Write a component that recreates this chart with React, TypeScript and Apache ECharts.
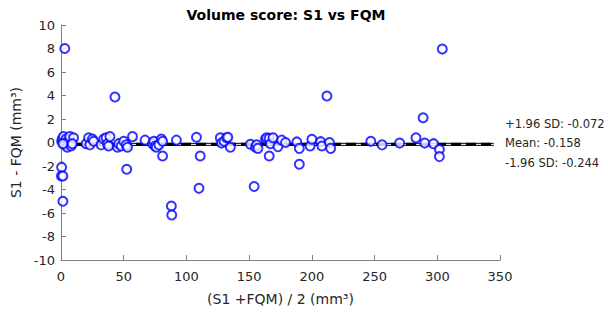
import React, { useEffect, useRef } from "react";
import * as echarts from "echarts";

const title = "Volume score: S1 vs FQM";
const xName = "(S1 +FQM) / 2 (mm³)";
const yName = "S1 - FQM (mm³)";

// mean of the two measurements (x)
const meanValues = [
  0.5, 1, 2, 3, 4, 5, 6, 7, 8, 1.5, 3, 0.5, 0.3, 1.5, 1.5, 10, 9,
  20, 22, 23, 25, 26,
  32, 34, 36, 37, 38, 39,
  43, 45, 46, 48, 50, 52, 52.4, 53,
  57, 67,
  73, 74, 75, 76, 78, 80, 81, 81,
  88, 88.3, 92,
  108, 110, 111,
  127, 128, 130, 132, 133, 135,
  151, 154, 155, 156, 157,
  163, 164, 166, 166, 167, 169,
  173, 176, 179,
  188, 190, 190,
  198.6, 200, 207, 208, 212, 214, 215,
  247, 256, 270, 283, 288.7, 290, 297, 301.7, 301.7, 304,
];
// difference S1 - FQM (y)
const diffValues = [
  0.1, 0.3, 0.5, -0.2, 0.3, -0.4, 0.2, 0.5, -0.3, -0.1, 8.0, -2.1, -2.85, -2.85, -5.0, 0.4, -0.1,
  -0.1, 0.4, -0.2, 0.3, 0.1,
  -0.2, 0.3, 0.4, -0.1, -0.3, 0.5,
  3.87, -0.4, -0.1, -0.3, 0.1, -0.2, -2.28, -0.4,
  0.5, 0.2,
  -0.1, 0.1, -0.3, -0.4, -0.2, 0.3, 0.1, -1.15,
  -5.4, -6.17, 0.2,
  0.45, -3.9, -1.15,
  0.4, -0.05, 0.1, 0.4, 0.45, -0.4,
  -0.15, -3.75, -0.4, -0.2, -0.5,
  0.3, 0.4, 0.35, -1.15, -0.1, 0.4,
  -0.35, 0.2, 0.0,
  0.05, -0.5, -1.85,
  -0.3, 0.27, 0.07, -0.3, 3.96, 0.0, -0.5,
  0.1, -0.2, -0.05, 0.4, 2.1, -0.05, -0.1, -0.6, -1.2, 7.95,
];

const meanDiff = -0.158;
const upperLoA = -0.072;
const lowerLoA = -0.244;
const lineXRange = [0, 345];

export default function App() {
  const ref = useRef<HTMLDivElement>(null);
  useEffect(() => {
    if (!ref.current) return;
    const chart = echarts.init(ref.current, undefined, { renderer: "svg" });
    const pts = meanValues.map((v, i) => [v, diffValues[i]]);
    const axisLabel = { color: "#262626", fontSize: 13, fontFamily: "DejaVu Sans" };
    chart.setOption({
      animation: false,
      backgroundColor: "#ffffff",
      title: {
        text: title,
        left: 281,
        textAlign: "center",
        top: 3,
        textStyle: { fontSize: 14, fontWeight: "bold", color: "#000", fontFamily: "DejaVu Sans" },
      },
      grid: { left: 61, right: 108, top: 25, bottom: 53 },
      xAxis: {
        type: "value",
        min: 0,
        max: 350,
        interval: 50,
        name: xName,
        nameLocation: "middle",
        nameGap: 32,
        nameTextStyle: { fontSize: 14, color: "#262626", fontFamily: "DejaVu Sans" },
        axisLine: { onZero: false, lineStyle: { color: "#808080" } },
        axisTick: { inside: true, length: 5, lineStyle: { color: "#808080" } },
        axisLabel: { ...axisLabel, margin: 10 },
        splitLine: { show: false },
      },
      yAxis: {
        type: "value",
        min: -10,
        max: 10,
        interval: 2,
        name: yName,
        nameLocation: "middle",
        nameGap: 34,
        nameTextStyle: { fontSize: 14, color: "#262626", fontFamily: "DejaVu Sans" },
        axisLine: { show: true, onZero: false, lineStyle: { color: "#808080" } },
        axisTick: { show: true, inside: true, length: 5, lineStyle: { color: "#808080" } },
        axisLabel: { ...axisLabel, margin: 6 },
        splitLine: { show: false },
      },
      series: [
        {
          type: "line",
          data: [[lineXRange[0], upperLoA], [lineXRange[1], upperLoA]],
          symbol: "none",
          lineStyle: { color: "#000", width: 1 },
          z: 3,
        },
        {
          type: "line",
          data: [[lineXRange[0], lowerLoA], [lineXRange[1], lowerLoA]],
          symbol: "none",
          lineStyle: { color: "#000", width: 1 },
          z: 3,
        },
        {
          type: "line",
          data: [[lineXRange[0], meanDiff], [lineXRange[1], meanDiff]],
          symbol: "none",
          lineStyle: { color: "#000", width: 3, type: [10, 5] },
          z: 3,
        },
        {
          type: "scatter",
          data: pts,
          symbol: "emptyCircle",
          symbolSize: 9,
          itemStyle: { color: "#0000ff", borderColor: "#0000ff", borderWidth: 1.2 },
          z: 4,
        },
      ],
      graphic: [
        { type: "text", left: 505, top: 118, style: { text: `+1.96 SD: ${upperLoA.toFixed(3)}`, fontSize: 11.5, fill: "#262626", fontFamily: "DejaVu Sans" } },
        { type: "text", left: 505, top: 137, style: { text: `Mean: ${meanDiff.toFixed(3)}`, fontSize: 11.5, fill: "#262626", fontFamily: "DejaVu Sans" } },
        { type: "text", left: 505, top: 157, style: { text: `-1.96 SD: ${lowerLoA.toFixed(3)}`, fontSize: 11.5, fill: "#262626", fontFamily: "DejaVu Sans" } },
      ],
    });
    return () => chart.dispose();
  }, []);
  return <div ref={ref} style={{ width: 608, height: 313, position: "absolute", left: 0, top: 0 }} />;
}
